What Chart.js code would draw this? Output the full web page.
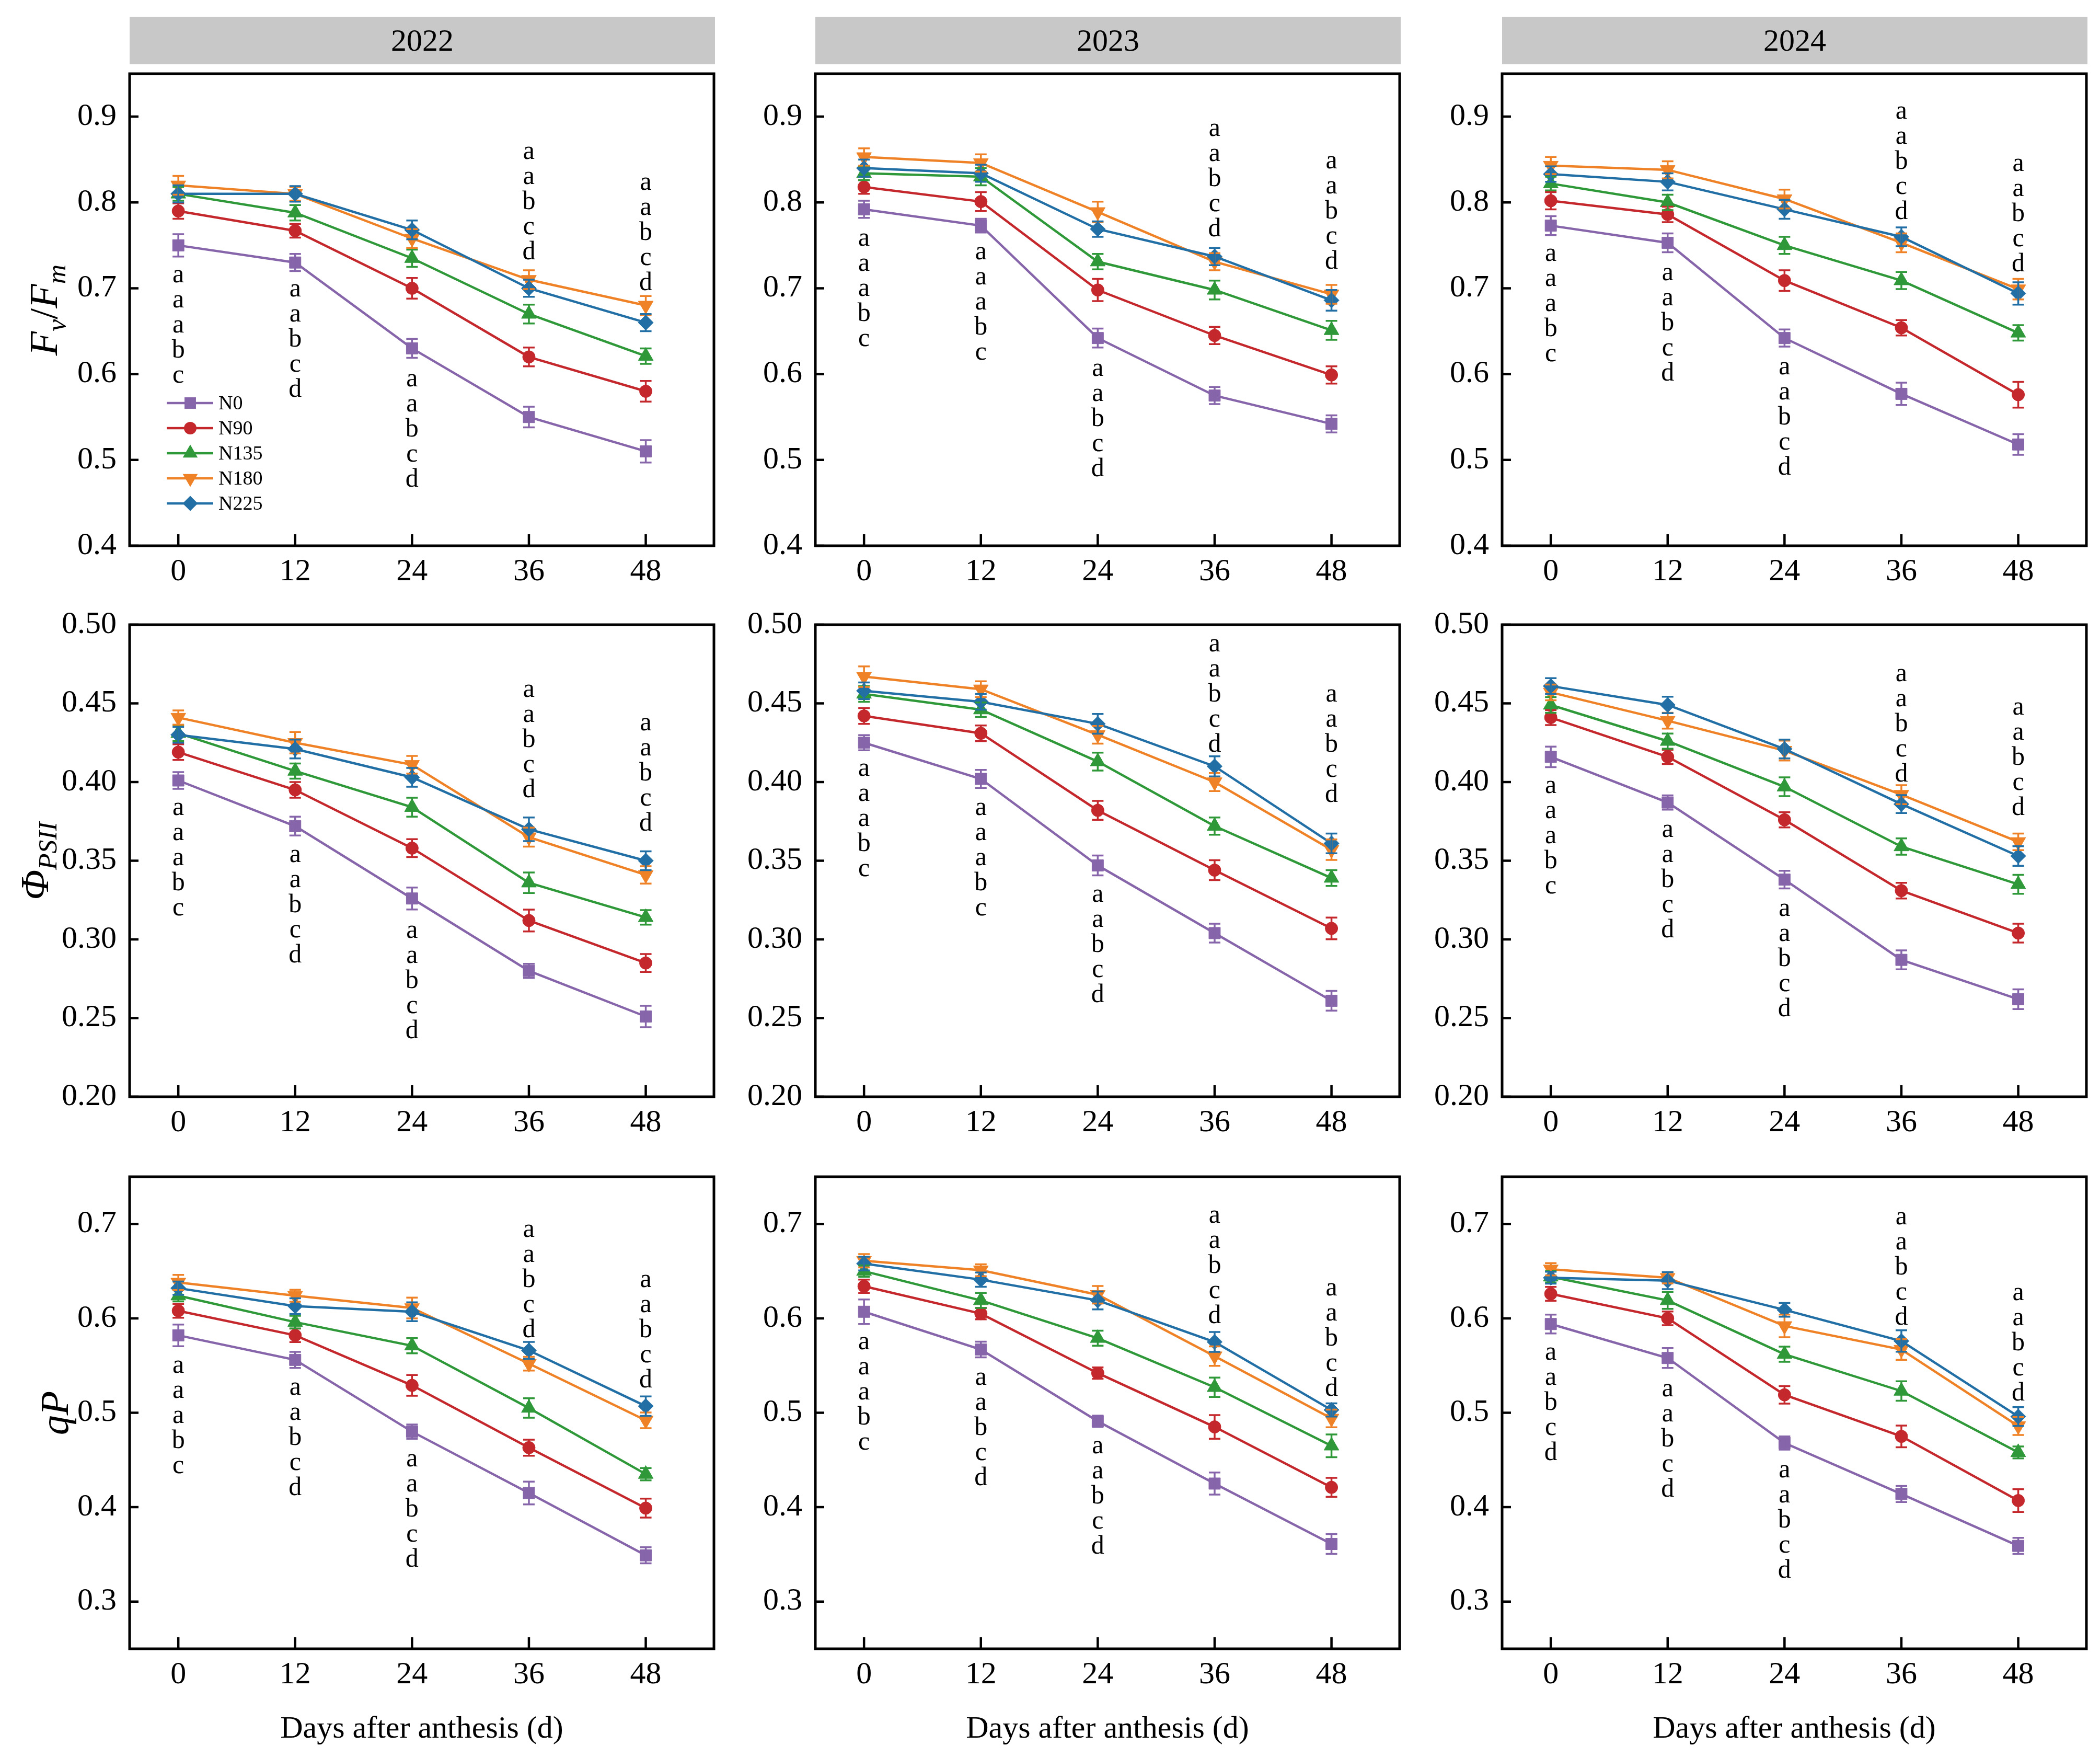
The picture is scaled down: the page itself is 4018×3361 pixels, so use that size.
<!DOCTYPE html>
<html>
<head>
<meta charset="utf-8">
<script src="https://cdn.jsdelivr.net/npm/chart.js@4.4.1/dist/chart.umd.min.js"></script>
<style>
  body { margin: 0; background: #fff; width: 4018px; height: 3361px; position: relative; overflow: hidden;
         font-family: "Liberation Serif", "Times New Roman", serif; color: #000; }
  canvas { position: absolute; }
  .strip { position: absolute; background: #c8c8c8; font-size: 60px; line-height: 91px; height: 91px; text-align: center; }
  .ytitle { position: absolute; width: 600px; height: 76px; font-size: 76px; line-height: 76px; text-align: center;
            transform: rotate(-90deg); white-space: nowrap; }
  .ytitle sub { font-size: 0.68em; line-height: 0; vertical-align: -0.3em; }
  .xtitle { position: absolute; width: 1118px; height: 60px; font-size: 60px; line-height: 60px; text-align: center; }
</style>
</head>
<body>
<script>
// x axis and groups
const days = [0, 12, 24, 36, 48];
const treatments = ["N0", "N90", "N135", "N180", "N225"];
const years = ["2022", "2023", "2024"];

// tick labels of the three rows
const fvTicks = [0.4, 0.5, 0.6, 0.7, 0.8, 0.9];
const phiTicks = [0.20, 0.25, 0.30, 0.35, 0.40, 0.45, 0.50];
const qpTicks = [0.3, 0.4, 0.5, 0.6, 0.7];

// Fv/Fm means (rows: N0, N90, N135, N180, N225)
const fv2022 = [
    [0.750, 0.730, 0.630, 0.550, 0.510],
    [0.790, 0.767, 0.700, 0.620, 0.580],
    [0.810, 0.788, 0.735, 0.670, 0.621],
    [0.820, 0.810, 0.758, 0.710, 0.680],
    [0.810, 0.810, 0.768, 0.700, 0.660]
];
const fv2022Err = [
    [0.013, 0.010, 0.011, 0.012, 0.013],
    [0.009, 0.008, 0.012, 0.011, 0.012],
    [0.008, 0.009, 0.010, 0.011, 0.009],
    [0.011, 0.008, 0.011, 0.011, 0.011],
    [0.010, 0.009, 0.011, 0.010, 0.010]
];
const fv2023 = [
    [0.792, 0.773, 0.642, 0.575, 0.542],
    [0.818, 0.801, 0.698, 0.645, 0.599],
    [0.834, 0.830, 0.731, 0.698, 0.651],
    [0.853, 0.846, 0.789, 0.731, 0.693],
    [0.840, 0.834, 0.769, 0.737, 0.686]
];
const fv2023Err = [
    [0.010, 0.008, 0.011, 0.010, 0.010],
    [0.008, 0.011, 0.013, 0.010, 0.010],
    [0.008, 0.010, 0.009, 0.011, 0.011],
    [0.010, 0.010, 0.012, 0.010, 0.011],
    [0.010, 0.010, 0.009, 0.010, 0.012]
];
const fv2024 = [
    [0.773, 0.753, 0.642, 0.577, 0.518],
    [0.802, 0.786, 0.709, 0.654, 0.576],
    [0.822, 0.800, 0.750, 0.709, 0.648],
    [0.843, 0.838, 0.804, 0.753, 0.699],
    [0.833, 0.824, 0.792, 0.760, 0.694]
];
const fv2024Err = [
    [0.011, 0.011, 0.010, 0.013, 0.012],
    [0.010, 0.009, 0.012, 0.009, 0.015],
    [0.008, 0.009, 0.010, 0.010, 0.009],
    [0.010, 0.010, 0.011, 0.011, 0.012],
    [0.009, 0.010, 0.011, 0.011, 0.013]
];

// PhiPSII means
const phi2022 = [
    [0.401, 0.372, 0.326, 0.280, 0.251],
    [0.419, 0.395, 0.358, 0.312, 0.285],
    [0.431, 0.407, 0.384, 0.336, 0.314],
    [0.441, 0.425, 0.411, 0.365, 0.341],
    [0.430, 0.421, 0.403, 0.370, 0.350]
];
const phi2022Err = [
    [0.0053, 0.0060, 0.0070, 0.0045, 0.0068],
    [0.0050, 0.0050, 0.0057, 0.0069, 0.0057],
    [0.0050, 0.0048, 0.0060, 0.0065, 0.0046],
    [0.0045, 0.0068, 0.0056, 0.0060, 0.0055],
    [0.0050, 0.0060, 0.0060, 0.0075, 0.0060]
];
const phi2023 = [
    [0.425, 0.402, 0.347, 0.304, 0.261],
    [0.442, 0.431, 0.382, 0.344, 0.307],
    [0.456, 0.446, 0.413, 0.372, 0.339],
    [0.467, 0.459, 0.430, 0.400, 0.357],
    [0.458, 0.451, 0.437, 0.410, 0.361]
];
const phi2023Err = [
    [0.0048, 0.0057, 0.0063, 0.0060, 0.0063],
    [0.0050, 0.0050, 0.0060, 0.0063, 0.0069],
    [0.0050, 0.0046, 0.0057, 0.0055, 0.0050],
    [0.0065, 0.0050, 0.0056, 0.0057, 0.0065],
    [0.0053, 0.0050, 0.0063, 0.0064, 0.0063]
];
const phi2024 = [
    [0.416, 0.387, 0.338, 0.287, 0.262],
    [0.441, 0.416, 0.376, 0.331, 0.304],
    [0.449, 0.426, 0.397, 0.359, 0.335],
    [0.457, 0.439, 0.420, 0.392, 0.362],
    [0.461, 0.449, 0.421, 0.386, 0.353]
];
const phi2024Err = [
    [0.0065, 0.0045, 0.0056, 0.0060, 0.0063],
    [0.0048, 0.0045, 0.0048, 0.0050, 0.0060],
    [0.0050, 0.0048, 0.0060, 0.0052, 0.0060],
    [0.0050, 0.0050, 0.0063, 0.0060, 0.0053],
    [0.0050, 0.0052, 0.0060, 0.0057, 0.0062]
];

// qP means
const qp2022 = [
    [0.582, 0.556, 0.480, 0.415, 0.349],
    [0.608, 0.582, 0.529, 0.463, 0.399],
    [0.624, 0.596, 0.571, 0.505, 0.435],
    [0.638, 0.624, 0.611, 0.552, 0.492],
    [0.632, 0.613, 0.607, 0.566, 0.507]
];
const qp2022Err = [
    [0.0115, 0.0085, 0.0075, 0.0120, 0.0085],
    [0.0073, 0.0071, 0.0110, 0.0085, 0.0100],
    [0.0060, 0.0067, 0.0080, 0.0103, 0.0065],
    [0.0080, 0.0063, 0.0110, 0.0073, 0.0083],
    [0.0070, 0.0083, 0.0100, 0.0090, 0.0103]
];
const qp2023 = [
    [0.607, 0.567, 0.491, 0.425, 0.361],
    [0.634, 0.605, 0.542, 0.485, 0.421],
    [0.650, 0.619, 0.579, 0.527, 0.465],
    [0.661, 0.651, 0.625, 0.560, 0.494],
    [0.658, 0.641, 0.619, 0.575, 0.503]
];
const qp2023Err = [
    [0.0130, 0.0083, 0.0060, 0.0117, 0.0105],
    [0.0070, 0.0060, 0.0060, 0.0125, 0.0100],
    [0.0060, 0.0080, 0.0080, 0.0103, 0.0120],
    [0.0070, 0.0063, 0.0093, 0.0103, 0.0093],
    [0.0073, 0.0075, 0.0095, 0.0105, 0.0070]
];
const qp2024 = [
    [0.594, 0.558, 0.468, 0.414, 0.359],
    [0.626, 0.600, 0.519, 0.475, 0.407],
    [0.644, 0.619, 0.562, 0.523, 0.458],
    [0.652, 0.643, 0.592, 0.567, 0.486],
    [0.643, 0.640, 0.609, 0.576, 0.496]
];
const qp2024Err = [
    [0.0100, 0.0105, 0.0070, 0.0085, 0.0085],
    [0.0073, 0.0073, 0.0093, 0.0115, 0.0120],
    [0.0060, 0.0090, 0.0080, 0.0103, 0.0063],
    [0.0065, 0.0060, 0.0120, 0.0110, 0.0095],
    [0.0063, 0.0090, 0.0073, 0.0113, 0.0100]
];

// significance letters per day, and the value where the first letter sits
const fv2022Letters = ["aaabc", "aabcd", "aabcd", "aabcd", "aabcd"];
const fv2022LetterY = [0.714, 0.698, 0.593, 0.858, 0.822];
const fv2023Letters = ["aaabc", "aaabc", "aabcd", "aabcd", "aabcd"];
const fv2023LetterY = [0.757, 0.741, 0.605, 0.885, 0.847];
const fv2024Letters = ["aaabc", "aabcd", "aabcd", "aabcd", "aabcd"];
const fv2024LetterY = [0.739, 0.717, 0.607, 0.905, 0.844];
const phi2022Letters = ["aaabc", "aabcd", "aabcd", "aabcd", "aabcd"];
const phi2022LetterY = [0.383, 0.353, 0.305, 0.458, 0.437];
const phi2023Letters = ["aaabc", "aaabc", "aabcd", "aabcd", "aabcd"];
const phi2023LetterY = [0.408, 0.383, 0.328, 0.487, 0.455];
const phi2024Letters = ["aaabc", "aabcd", "aabcd", "aabcd", "aabcd"];
const phi2024LetterY = [0.397, 0.369, 0.319, 0.468, 0.447];
const qp2022Letters = ["aaabc", "aabcd", "aabcd", "aabcd", "aabcd"];
const qp2022LetterY = [0.549, 0.526, 0.450, 0.693, 0.640];
const qp2023Letters = ["aaabc", "aabcd", "aabcd", "aabcd", "aabcd"];
const qp2023LetterY = [0.574, 0.536, 0.464, 0.708, 0.631];
const qp2024Letters = ["aabcd", "aabcd", "aabcd", "aabcd", "aabcd"];
const qp2024LetterY = [0.563, 0.524, 0.438, 0.706, 0.626];

// series look
const colors = ["#8765aa", "#c4282c", "#2f993a", "#ef8226", "#226fa6"];
const styles = ["rect", "circle", "triangle", "triangle", "rectRot"];
const rotations = [0, 0, 0, 180, 0];
const radii = [15.5, 12, 16.5, 16.5, 14.5];

const FONT = '"Liberation Serif", "Times New Roman", serif';

// page layout
const colLeft = [248, 1560, 2874];
const rowTop = [141, 1195, 2251];
const plotW = 1118, plotH = 903;
const padL = 230, padT = 50, padR = 20, padB = 110;

const rows = [
    { ticks: fvTicks, min: 0.4, max: 0.95, dec: 1,
      values: [fv2022, fv2023, fv2024], errs: [fv2022Err, fv2023Err, fv2024Err],
      letters: [fv2022Letters, fv2023Letters, fv2024Letters], letterY: [fv2022LetterY, fv2023LetterY, fv2024LetterY],
      title: '<i>F</i><sub><i>v</i></sub>/<i>F</i><sub><i>m</i></sub>', titleX: 83 },
    { ticks: phiTicks, min: 0.2, max: 0.5, dec: 2,
      values: [phi2022, phi2023, phi2024], errs: [phi2022Err, phi2023Err, phi2024Err],
      letters: [phi2022Letters, phi2023Letters, phi2024Letters], letterY: [phi2022LetterY, phi2023LetterY, phi2024LetterY],
      title: '<i>Φ</i><sub><i>PSII</i></sub>', titleX: 66 },
    { ticks: qpTicks, min: 0.25, max: 0.75, dec: 1,
      values: [qp2022, qp2023, qp2024], errs: [qp2022Err, qp2023Err, qp2024Err],
      letters: [qp2022Letters, qp2023Letters, qp2024Letters], letterY: [qp2022LetterY, qp2023LetterY, qp2024LetterY],
      title: '<i>qP</i>', titleX: 104 }
];

// error bars, inner ticks, frame, letters and the legend
const panelExtras = {
    id: "panelExtras",
    afterDatasetsDraw(chart, args, opts) {
        const ctx = chart.ctx, xs = chart.scales.x, ys = chart.scales.y;
        chart.data.datasets.forEach((ds, i) => {
            const err = opts.errors[i];
            ctx.save();
            ctx.strokeStyle = ds.borderColor;
            ctx.lineWidth = 3.5;
            ds.data.forEach((p, j) => {
                const px = xs.getPixelForValue(p.x);
                const hi = ys.getPixelForValue(p.y + err[j]);
                const lo = ys.getPixelForValue(p.y - err[j]);
                ctx.beginPath();
                ctx.moveTo(px, hi); ctx.lineTo(px, lo);
                ctx.moveTo(px - 11, hi); ctx.lineTo(px + 11, hi);
                ctx.moveTo(px - 11, lo); ctx.lineTo(px + 11, lo);
                ctx.stroke();
            });
            ctx.restore();
        });
    },
    afterDraw(chart, args, opts) {
        const ctx = chart.ctx, a = chart.chartArea, xs = chart.scales.x, ys = chart.scales.y;
        ctx.save();
        ctx.strokeStyle = "#000";
        ctx.lineWidth = 4.5;
        ctx.beginPath();
        xs.ticks.forEach(t => {
            const px = xs.getPixelForValue(t.value);
            ctx.moveTo(px, a.bottom); ctx.lineTo(px, a.bottom - 22);
        });
        ys.ticks.forEach(t => {
            const py = ys.getPixelForValue(t.value);
            ctx.moveTo(a.left, py); ctx.lineTo(a.left + 17, py);
        });
        ctx.stroke();
        ctx.lineWidth = 5;
        ctx.strokeRect(a.left, a.top, a.right - a.left, a.bottom - a.top);

        // letters stacked under / above each day
        ctx.fillStyle = "#000";
        ctx.font = "50px " + FONT;
        ctx.textAlign = "center";
        ctx.textBaseline = "alphabetic";
        opts.letters.forEach((grp, j) => {
            const px = xs.getPixelForValue(days[j]);
            const py0 = ys.getPixelForValue(opts.letterY[j]);
            grp.split("").forEach((ch, k) => ctx.fillText(ch, px, py0 + k * 48 + 12));
        });

        if (opts.legend) {
            chart.data.datasets.forEach((ds, i) => {
                const cy = a.top + 630 + i * 48;
                ctx.strokeStyle = ds.borderColor;
                ctx.lineWidth = 4.5;
                ctx.beginPath();
                ctx.moveTo(a.left + 71, cy); ctx.lineTo(a.left + 160, cy);
                ctx.stroke();
                ctx.fillStyle = ds.borderColor;
                Chart.helpers.drawPoint(ctx, {
                    pointStyle: ds.pointStyle, radius: ds.pointRadius,
                    rotation: ds.pointRotation, borderWidth: 0
                }, a.left + 116, cy);
                ctx.fillStyle = "#000";
                ctx.font = "38px " + FONT;
                ctx.textAlign = "left";
                ctx.textBaseline = "middle";
                ctx.fillText(ds.label, a.left + 170, cy + 2);
            });
        }
        ctx.restore();
    }
};

function addDiv(cls, html, css) {
    const d = document.createElement("div");
    d.className = cls;
    d.innerHTML = html;
    Object.assign(d.style, css);
    document.body.appendChild(d);
}

function drawAll() {
    // year strips
    years.forEach((yr, c) => addDiv("strip", yr, { left: colLeft[c] + "px", top: "32px", width: "1120px" }));

    rows.forEach((row, r) => {
        // y axis title
        const cy = rowTop[r] + plotH / 2;
        addDiv("ytitle", row.title, { left: (row.titleX - 300) + "px", top: (cy - 38) + "px" });

        years.forEach((yr, c) => {
            const canvas = document.createElement("canvas");
            const W = padL + plotW + padR, H = padT + plotH + padB;
            canvas.width = W; canvas.height = H;
            canvas.style.left = (colLeft[c] - padL) + "px";
            canvas.style.top = (rowTop[r] - padT) + "px";
            canvas.style.width = W + "px"; canvas.style.height = H + "px";
            document.body.appendChild(canvas);

            const vals = row.values[c];
            const datasets = treatments.map((name, i) => ({
                label: name,
                data: days.map((d, j) => ({ x: d, y: vals[i][j] })),
                borderColor: colors[i],
                backgroundColor: colors[i],
                pointBackgroundColor: colors[i],
                pointBorderColor: colors[i],
                pointBorderWidth: 1,
                pointStyle: styles[i],
                pointRotation: rotations[i],
                pointRadius: radii[i],
                borderWidth: 4.5,
                tension: 0,
                clip: false,
                order: treatments.length - i
            }));

            new Chart(canvas, {
                type: "line",
                data: { datasets },
                options: {
                    responsive: false,
                    animation: false,
                    devicePixelRatio: 1,
                    layout: { padding: { left: 0, top: padT, right: padR, bottom: 0 } },
                    plugins: {
                        legend: { display: false },
                        tooltip: { enabled: false },
                        panelExtras: {
                            errors: row.errs[c],
                            letters: row.letters[c],
                            letterY: row.letterY[c],
                            legend: r === 0 && c === 0
                        }
                    },
                    scales: {
                        x: {
                            type: "linear", min: -5, max: 55,
                            afterBuildTicks: s => { s.ticks = days.map(v => ({ value: v })); },
                            afterFit: s => { s.height = padB; s.paddingLeft = 0; s.paddingRight = 0; },
                            grid: { display: false, drawTicks: false },
                            border: { display: false },
                            ticks: {
                                font: { family: FONT, size: 60 }, color: "#000",
                                padding: 14, maxRotation: 0, autoSkip: false,
                                callback: v => String(v)
                            }
                        },
                        y: {
                            type: "linear", min: row.min, max: row.max,
                            afterBuildTicks: s => { s.ticks = row.ticks.map(v => ({ value: v })); },
                            afterFit: s => { s.width = padL; s.paddingTop = 0; s.paddingBottom = 0; },
                            grid: { display: false, drawTicks: false },
                            border: { display: false },
                            ticks: {
                                font: { family: FONT, size: 60 }, color: "#000",
                                padding: 25, autoSkip: false,
                                callback: v => Number(v).toFixed(row.dec)
                            }
                        }
                    }
                },
                plugins: [panelExtras]
            });

            // x axis title under the bottom row
            if (r === rows.length - 1) {
                addDiv("xtitle", "Days after anthesis (d)", { left: colLeft[c] + "px", top: (3304 - 30) + "px" });
            }
        });
    });
}

Promise.all([
    document.fonts.load('60px "Liberation Serif"'),
    document.fonts.load('italic 76px "Liberation Serif"')
]).then(drawAll, drawAll);
</script>
</body>
</html>
